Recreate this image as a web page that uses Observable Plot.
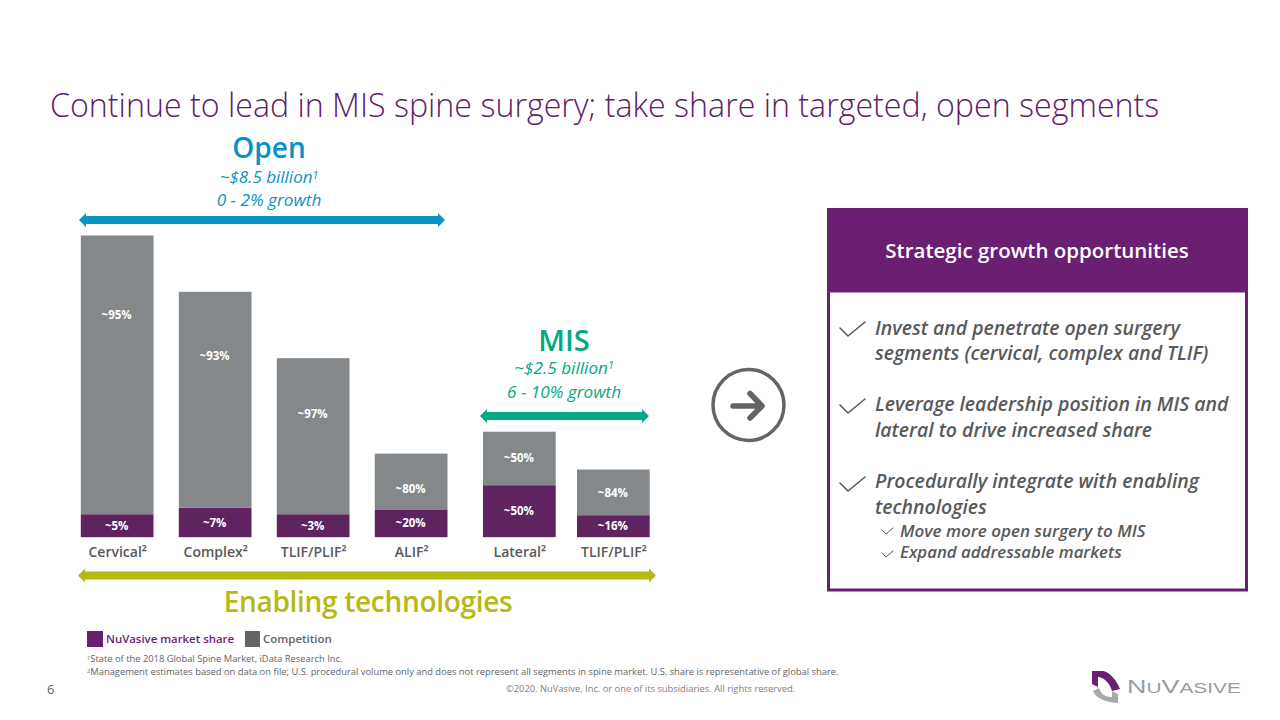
<!DOCTYPE html>
<html>
<head>
<meta charset="utf-8">
<script src="https://cdn.jsdelivr.net/npm/d3@7"></script>
<script src="https://cdn.jsdelivr.net/npm/@observablehq/plot@0.6"></script>
<style>
html,body{margin:0;padding:0;background:#fff;}
#page{position:relative;width:1280px;height:720px;overflow:hidden;font-family:"Open Sans",sans-serif;}
.t{position:absolute;white-space:nowrap;line-height:1;}
.c{transform:translateX(-50%);text-align:center;}
sup{font-size:.62em;line-height:0;vertical-align:baseline;position:relative;top:-.42em;}
#panelA,#panelB,#deco{position:absolute;top:0;}
#panelA svg,#panelB svg{display:block;}
</style>
</head>
<body>
<div id="page">
  <svg id="deco" width="1280" height="720" style="left:0">
    <!-- range arrows -->
    <path d="M79 220 L86 213 L86 216 L438 216 L438 213 L445 220 L438 227 L438 224 L86 224 L86 227 Z" fill="#0893c4"/>
    <path d="M480 416 L487 409 L487 412 L642 412 L642 409 L649 416 L642 423 L642 420 L487 420 L487 423 Z" fill="#05a882"/>
    <path d="M78 575.5 L85 568.5 L85 571.5 L649 571.5 L649 568.5 L656 575.5 L649 582.5 L649 579.5 L85 579.5 L85 582.5 Z" fill="#b5b914"/>
    <!-- circled arrow -->
    <circle cx="748.5" cy="405" r="35.5" fill="none" stroke="#636466" stroke-width="3.5"/>
    <path d="M733 406 H761 M750 393.5 L762 406 L750 418" fill="none" stroke="#636466" stroke-width="5.5" stroke-linecap="round" stroke-linejoin="round"/>
    <!-- panel -->
    <rect x="828.5" y="209.5" width="418" height="380.5" fill="#fff" stroke="#6b1f73" stroke-width="3"/>
    <rect x="827" y="208" width="421" height="84.5" fill="#6b1f73"/>
    <g fill="none" stroke="#58595b" stroke-linecap="round" stroke-linejoin="round">
      <path d="M840 328 L848 336 L865 322" stroke-width="1.6"/>
      <path d="M840 405 L848 413 L865 399" stroke-width="1.6"/>
      <path d="M840 483 L848 491 L865 477" stroke-width="1.6"/>
      <path d="M882 530 L886 534 L893 528" stroke-width="1"/>
      <path d="M882 553 L886 557 L893 551" stroke-width="1"/>
    </g>
    <!-- logo -->
    <path d="M1092 671 H1103 C1110 672 1117 681 1120 689 L1112 691 C1110 683 1103 677 1098 677 L1098 687 L1092 684 Z" fill="#6b1f73"/>
    <path d="M1093 691 C1096 698 1104 702 1118 703 V694 L1112 691 V697 C1105 697 1101 694 1099 688 Z" fill="#a7a9ac"/>
    <text x="1127" y="692.5" font-family="Liberation Sans" font-size="14" fill="#9a9c9f" textLength="114" lengthAdjust="spacingAndGlyphs"><tspan font-size="18">N</tspan>U<tspan font-size="18">V</tspan>ASIVE</text>
  </svg>
  <div id="panelA" style="left:0"></div>
  <div id="panelB" style="left:465px"></div>

  <div class="t" style="left:50px;top:89px;font-size:32.2px;font-weight:300;color:#5f2167;">Continue to lead in MIS spine surgery; take share in targeted, open segments</div>

  <div class="t c" style="left:269px;top:133px;font-size:28px;font-weight:600;color:#0893c4;">Open</div>
  <div class="t c" style="left:269px;top:168px;font-size:17px;font-style:italic;color:#0893c4;">~$8.5 billion<sup>1</sup></div>
  <div class="t c" style="left:269px;top:191px;font-size:17.2px;font-style:italic;color:#0893c4;">0 - 2% growth</div>

  <div class="t c" style="left:564px;top:325px;font-size:29px;font-weight:600;color:#05a882;">MIS</div>
  <div class="t c" style="left:564px;top:358.5px;font-size:17.2px;font-style:italic;color:#05a882;">~$2.5 billion<sup>1</sup></div>
  <div class="t c" style="left:564px;top:383px;font-size:17.2px;font-style:italic;color:#05a882;">6 - 10% growth</div>

  <div class="t c" style="left:368px;top:587px;font-size:28px;letter-spacing:-.3px;font-weight:600;color:#b5b914;">Enabling technologies</div>

  <div class="t" style="left:87px;top:631px;width:16px;height:16px;background:#6b1f73;"></div>
  <div class="t" style="left:106px;top:633px;font-size:11.4px;font-weight:600;color:#6b1f73;">NuVasive market share</div>
  <div class="t" style="left:245px;top:631px;width:15px;height:16px;background:#636466;"></div>
  <div class="t" style="left:263px;top:633px;font-size:11.5px;font-weight:600;color:#636466;">Competition</div>

  <div class="t" style="left:87px;top:654px;font-size:9.35px;color:#636466;"><sup>1</sup>State of the 2018 Global Spine Market, iData Research Inc.</div>
  <div class="t" style="left:87px;top:667px;font-size:9.35px;color:#636466;"><sup>2</sup>Management estimates based on data on file; U.S. procedural volume only and does not represent all segments in spine market. U.S. share is representative of global share.</div>
  <div class="t" style="left:47px;top:683px;font-size:13px;color:#636466;">6</div>
  <div class="t c" style="left:650.5px;top:684px;font-size:9.35px;color:#7f7f7f;">©2020. NuVasive, Inc. or one of its subsidiaries. All rights reserved.</div>

  <div class="t c" style="left:1037px;top:240px;font-size:20.5px;font-weight:600;color:#fff;">Strategic growth opportunities</div>
  <div class="t" style="left:875px;top:318px;font-size:19.45px;font-weight:600;font-style:italic;color:#58595b;">Invest and penetrate open surgery</div>
  <div class="t" style="left:875px;top:343px;font-size:19.45px;font-weight:600;font-style:italic;color:#58595b;">segments (cervical, complex and TLIF)</div>
  <div class="t" style="left:875px;top:394px;font-size:19.45px;font-weight:600;font-style:italic;color:#58595b;">Leverage leadership position in MIS and</div>
  <div class="t" style="left:875px;top:420px;font-size:19.45px;font-weight:600;font-style:italic;color:#58595b;">lateral to drive increased share</div>
  <div class="t" style="left:875px;top:471px;font-size:19.45px;font-weight:600;font-style:italic;color:#58595b;">Procedurally integrate with enabling</div>
  <div class="t" style="left:875px;top:497px;font-size:19.45px;font-weight:600;font-style:italic;color:#58595b;">technologies</div>
  <div class="t" style="left:900px;top:522px;font-size:17px;font-weight:600;font-style:italic;color:#58595b;">Move more open surgery to MIS</div>
  <div class="t" style="left:900px;top:544px;font-size:16.8px;font-weight:600;font-style:italic;color:#58595b;">Expand addressable markets</div>
</div>
<script>
// Segments (bar heights are in the chart's relative size units)
const openCategories = ["Cervical²", "Complex²", "TLIF/PLIF²", "ALIF²"];
const openNuVasive = [23, 29.4, 23, 27.8];
const openCompetition = [278.7, 216, 156, 55.8];
const openNuVasiveLabels = ["~5%", "~7%", "~3%", "~20%"];
const openCompetitionLabels = ["~95%", "~93%", "~97%", "~80%"];
const openCompetitionLabelAt = [222.5, 181.5, 123.5, 48.5];

const misCategories = ["Lateral²", "TLIF/PLIF²"];
const misNuVasive = [52, 22];
const misCompetition = [53.5, 45.7];
const misNuVasiveLabels = ["~50%", "~16%"];
const misCompetitionLabels = ["~50%", "~84%"];
const misCompetitionLabelAt = [79.5, 44.5];

const seriesNames = ["NuVasive", "Competition"];
const seriesColors = ["#5f2360", "#85888b"];

function panel({categories, nuvasive, competition, nuLabels, compLabels, compAt, width, rangeX, paddingInner}) {
  const rows = [];
  categories.forEach((c, i) => rows.push({cat: c, series: seriesNames[0], value: nuvasive[i]}));
  categories.forEach((c, i) => rows.push({cat: c, series: seriesNames[1], value: competition[i]}));
  const nuText = categories.map((c, i) => ({cat: c, at: nuvasive[i] / 2, label: nuLabels[i]}));
  const compText = categories.map((c, i) => ({cat: c, at: compAt[i], label: compLabels[i]}));
  return Plot.plot({
    width, height: 570, marginLeft: 0, marginRight: 0, marginTop: 0, marginBottom: 0,
    style: {background: "transparent", fontFamily: "'Open Sans',sans-serif"},
    x: {domain: categories, range: rangeX, paddingInner, paddingOuter: 0, round: false, label: null},
    y: {domain: [0, 302], range: [537.2, 235.2], axis: null},
    color: {domain: seriesNames, range: seriesColors},
    marks: [
      Plot.barY(rows, {x: "cat", y: "value", fill: "series"}),
      Plot.text(nuText, {x: "cat", y: "at", text: "label", fill: "#fff", fontSize: 11.5, fontWeight: 700, dx: -1}),
      Plot.text(compText, {x: "cat", y: "at", text: "label", fill: "#fff", fontSize: 11.5, fontWeight: 700, dx: -1}),
      Plot.axisX({anchor: "bottom", y: 0, tickSize: 0, tickPadding: 9, fontSize: 14, fontWeight: 600, color: "#58595b", label: null, labelArrow: "none"})
    ]
  });
}

document.getElementById("panelA").appendChild(panel({
  categories: openCategories, nuvasive: openNuVasive, competition: openCompetition,
  nuLabels: openNuVasiveLabels, compLabels: openCompetitionLabels, compAt: openCompetitionLabelAt,
  width: 465, rangeX: [80.8, 447.5], paddingInner: 0.258
}));
document.getElementById("panelB").appendChild(panel({
  categories: misCategories, nuvasive: misNuVasive, competition: misCompetition,
  nuLabels: misNuVasiveLabels, compLabels: misCompetitionLabels, compAt: misCompetitionLabelAt,
  width: 200, rangeX: [18, 184.7], paddingInner: 0.2266
}));
</script>
</body>
</html>
